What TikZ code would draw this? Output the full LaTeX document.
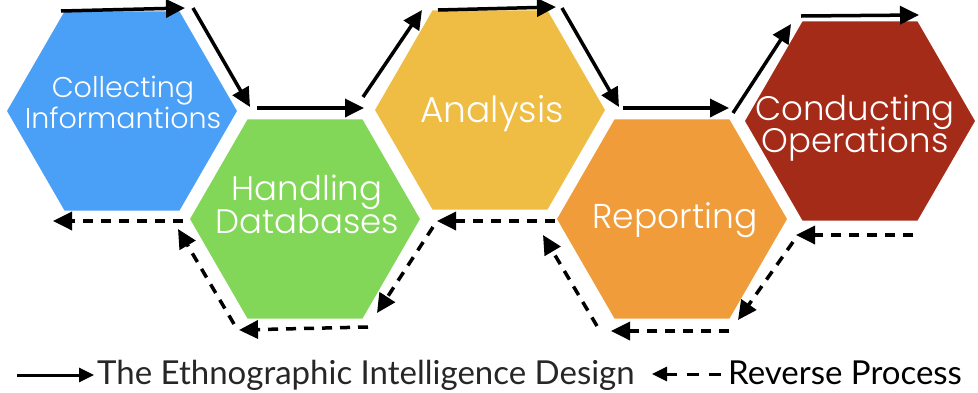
\documentclass[tikz,border=0pt]{standalone}
\usepackage{fontspec}
\setmainfont{Poppins Light}
\newfontfamily\legfont{Lato}
\usetikzlibrary{shapes.geometric,arrows.meta}
\definecolor{cblue}{HTML}{4A9FF6}
\definecolor{cgreen}{HTML}{82D658}
\definecolor{cyellow}{HTML}{EFBD43}
\definecolor{corange}{HTML}{F09C3A}
\definecolor{cred}{HTML}{A52B19}
\begin{document}
\begin{tikzpicture}[x=1pt,y=-1pt,
  hexa/.style={regular polygon, regular polygon sides=6, minimum size=232pt, inner sep=0pt, draw=white, line width=1.5pt},
  lbl/.style={text=white, anchor=base, inner sep=0pt},
  fwd/.style={line width=3.5pt, -{Triangle[length=19pt,width=18pt]}},
  rev/.style={line width=3.5pt, dash pattern=on 10pt off 8pt, -{Triangle[length=19pt,width=18pt]}},
]
\useasboundingbox (0,0) rectangle (978,392);
% hexagons
\node[hexa, fill=cblue]   (h1) at (122,111) {};
\node[hexa, fill=cgreen]  (h2) at (305,219) {};
\node[hexa, fill=cyellow] (h3) at (490,110) {};
\node[hexa, fill=corange] (h4) at (672,219) {};
\node[hexa, fill=cred]    (h5) at (860,121) {};
% labels
\node[lbl, font=\fontsize{28.5}{31}\selectfont] (t1a) at (123,97) {Collecting};
\node[lbl, font=\fontsize{28.5}{31}\selectfont] (t1b) at (123,128) {Informantions};
\node[lbl, font=\fontsize{34}{36}\selectfont] (t2a) at (307,200) {Handling};
\node[lbl, font=\fontsize{34}{36}\selectfont] (t2b) at (307,233) {Databases};
\node[lbl, font=\fontsize{36}{40}\selectfont] (t3) at (492,122) {Analysis};
\node[lbl, font=\fontsize{34.5}{36}\selectfont] (t4) at (675,228) {Reporting};
\node[lbl, font=\fontsize{34}{33}\selectfont] (t5a) at (855,120) {Conducting};
\node[lbl, font=\fontsize{34}{33}\selectfont] (t5b) at (855,152) {Operations};
% forward arrow end points
\coordinate (a1s) at (61,11);  \coordinate (a1e) at (185,8);
\coordinate (a2s) at (193,8);  \coordinate (a2e) at (250,107);
\coordinate (a3s) at (257,108); \coordinate (a3e) at (364,108);
\coordinate (a4s) at (363,97); \coordinate (a4e) at (422,10);
\coordinate (a5s) at (438,10); \coordinate (a5e) at (556,7);
\coordinate (a6s) at (562,8);  \coordinate (a6e) at (619,107);
\coordinate (a7s) at (623,108); \coordinate (a7e) at (729,108);
\coordinate (a8s) at (733,113); \coordinate (a8e) at (791,24);
\coordinate (a9s) at (801,16); \coordinate (a9e) at (919,15);
\draw[fwd] (a1s) -- (a1e);
\draw[fwd] (a2s) -- (a2e);
\draw[fwd] (a3s) -- (a3e);
\draw[fwd] (a4s) -- (a4e);
\draw[fwd] (a5s) -- (a5e);
\draw[fwd] (a6s) -- (a6e);
\draw[fwd] (a7s) -- (a7e);
\draw[fwd] (a8s) -- (a8e);
\draw[fwd] (a9s) -- (a9e);
% reverse arrow end points
\coordinate (d1s) at (183,221); \coordinate (d1e) at (53,221);
\coordinate (d2s) at (234,324); \coordinate (d2e) at (178,229);
\coordinate (d3s) at (368,327); \coordinate (d3e) at (239,330);
\coordinate (d4s) at (433,227); \coordinate (d4e) at (377,313);
\coordinate (d5s) at (555,221); \coordinate (d5e) at (437,221);
\coordinate (d6s) at (597,326); \coordinate (d6e) at (543,235);
\coordinate (d7s) at (729,331); \coordinate (d7e) at (611,331);
\coordinate (d8s) at (793,242); \coordinate (d8e) at (738,320);
\coordinate (d9s) at (913,235); \coordinate (d9e) at (796,235);
\draw[rev] (d1s) -- (d1e);
\draw[rev] (d2s) -- (d2e);
\draw[rev] (d3s) -- (d3e);
\draw[rev] (d4s) -- (d4e);
\draw[rev] (d5s) -- (d5e);
\draw[rev] (d6s) -- (d6e);
\draw[rev] (d7s) -- (d7e);
\draw[rev] (d8s) -- (d8e);
\draw[rev] (d9s) -- (d9e);
% legend
\node[anchor=base west, inner sep=0pt, text=black!85, font=\legfont\fontsize{33}{36}\selectfont] (leg1) at (97,384) {The Ethnographic Intelligence Design};
\node[anchor=base west, inner sep=0pt, text=black, font=\legfont\fontsize{33}{36}\selectfont] (leg2) at (728,384) {Reverse Process};
\coordinate (l1s) at (17,375);
\coordinate (l2e) at (652,374);
\draw[line width=3pt, -{Triangle[length=15pt,width=14pt]}] (l1s) -- ([xshift=-3pt]leg1.west |- l1s);
\draw[line width=3pt, dash pattern=on 12pt off 10pt, -{Triangle[length=15pt,width=14pt]}] ([xshift=-7pt]leg2.west |- l2e) -- (l2e);
\end{tikzpicture}
\end{document}
